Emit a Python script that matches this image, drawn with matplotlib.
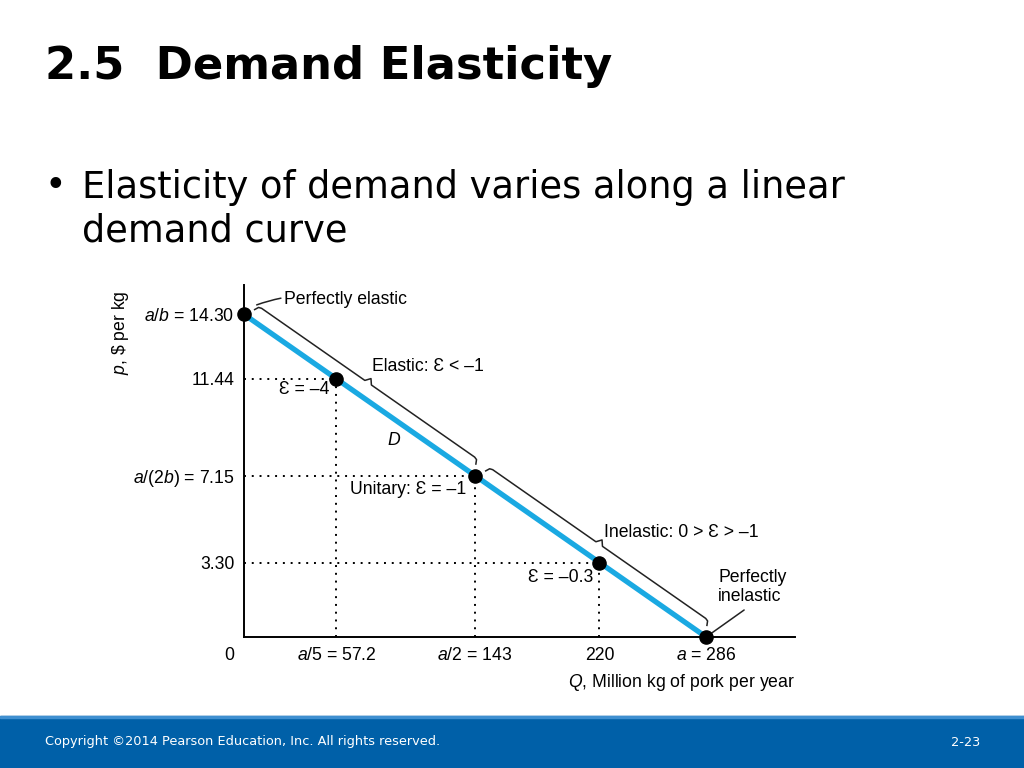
import numpy as np
import matplotlib.pyplot as plt
from matplotlib.patches import Rectangle

plt.rcParams["font.family"] = ["Liberation Sans", "DejaVu Sans"]
plt.rcParams["mathtext.fontset"] = "custom"
plt.rcParams["mathtext.rm"] = "Liberation Sans"
plt.rcParams["mathtext.it"] = "Liberation Sans:italic"

# demand curve data
a = 286.0
choke = 14.30
q_pts = [0.0, 57.2, 143.0, 220.0, 286.0]
p_pts = [14.30, 11.44, 7.15, 3.30, 0.0]
x_ticks = [57.2, 143.0, 220.0, 286.0]
x_labels = ["$a$/5 = 57.2", "$a$/2 = 143", "220", "$a$ = 286"]
y_ticks = [14.30, 11.44, 7.15, 3.30]
y_labels = ["$a$/$b$ = 14.30", "11.44", "$a$/(2$b$) = 7.15", "3.30"]
point_labels = [None, "Ɛ = –4", "Unitary: Ɛ = –1", "Ɛ = –0.3", None]

BLUE = "#1aa9e2"
FOOT = "#0060a8"
FS = 12.7

fig = plt.figure(figsize=(10.24, 7.68), dpi=100)

# slide text
fig.text(45 / 1024, 1 - 67 / 768, "2.5  Demand Elasticity", family="DejaVu Sans",
         fontsize=32.3, fontweight="bold", va="center", ha="left")
fig.text(45 / 1024, 1 - 187 / 768, "•", family="DejaVu Sans", fontsize=26.5,
         va="center", ha="left")
fig.text(82 / 1024, 1 - 187 / 768, "Elasticity of demand varies along a linear",
         family="DejaVu Sans", fontsize=26.5, va="center", ha="left")
fig.text(82 / 1024, 1 - 231 / 768, "demand curve", family="DejaVu Sans",
         fontsize=26.5, va="center", ha="left")

# footer band
fig.patches.append(Rectangle((0, 0), 1, 52 / 768, transform=fig.transFigure,
                             color=FOOT, zorder=0))
fig.patches.append(Rectangle((0, 50 / 768), 1, 2 / 768, transform=fig.transFigure,
                             color="#3f8fd0", zorder=1))
fig.text(45 / 1024, 1 - 742 / 768,
         "Copyright ©2014 Pearson Education, Inc. All rights reserved.",
         family="DejaVu Sans", fontsize=9.3, color="white", va="center")
fig.text(980 / 1024, 1 - 742 / 768, "2-23", family="DejaVu Sans", fontsize=9.3,
         color="white", va="center", ha="right")

# chart
ax = fig.add_axes([244 / 1024, 131 / 768, 551 / 1024, 352 / 768])
ax.set_xlim(0, 341)
ax.set_ylim(0, 15.6)
for s in ["top", "right"]:
    ax.spines[s].set_visible(False)
for s in ["left", "bottom"]:
    ax.spines[s].set_linewidth(1.4)
ax.set_xticks(x_ticks)
ax.set_xticklabels(x_labels, fontsize=FS)
ax.set_yticks(y_ticks)
ax.set_yticklabels(y_labels, fontsize=FS)
ax.tick_params(length=0, pad=7)
ax.text(-6, -0.45, "0", fontsize=FS, ha="right", va="top")
ax.text(1.0, -0.128, "$Q$, Million kg of pork per year", transform=ax.transAxes,
        fontsize=FS, ha="right", va="center")
ax.text(-0.225, 0.985, "$p$, \\$ per kg", transform=ax.transAxes, fontsize=FS,
        rotation=90, ha="center", va="top")

ax.plot([0, a], [choke, 0], color=BLUE, lw=3.8, solid_capstyle="butt", zorder=3)

for q, p in zip(q_pts[1:-1], p_pts[1:-1]):
    ax.plot([0, q], [p, p], color="black", ls=(0, (1, 3)), lw=1.4, zorder=2)
    ax.plot([q, q], [0, p], color="black", ls=(0, (1, 3)), lw=1.4, zorder=2)

ax.scatter(q_pts, p_pts, s=90, color="black", zorder=5, clip_on=False)

offsets = [None, (-7, -11), (-9, -14), (-6, -15), None]
for q, p, lab, off in zip(q_pts, p_pts, point_labels, offsets):
    if lab:
        ax.annotate(lab, (q, p), xytext=off, textcoords="offset pixels",
                    fontsize=FS, ha="right", va="center")

ax.text(92.9, 8.72, "$D$", fontsize=FS, ha="center", va="center")

# braces parallel to the demand curve
fig.canvas.draw()
to_px = ax.transData.transform
to_data = ax.transData.inverted().transform


def brace(p0, p1, off=15, hook=5, tip=5, inset=5):
    a0, a1 = to_px(p0), to_px(p1)
    d = (a1 - a0) / np.linalg.norm(a1 - a0)
    n = np.array([d[1], -d[0]])
    if n[1] < 0:
        n = -n
    b0 = a0 + d * inset + n * off
    b1 = a1 - d * inset + n * off
    m = (b0 + b1) / 2
    pts = [b0 - n * hook + d * 1, b0 - n * 1 + d * 3, b0 + d * 6, m - d * 4,
           m + n * tip, m + d * 4, b1 - d * 6, b1 - n * 1 - d * 3,
           b1 - n * hook - d * 1]
    xy = to_data(np.array(pts))
    ax.plot(xy[:, 0], xy[:, 1], color="#222222", lw=1.1, zorder=4, clip_on=False)
    return b0, m + n * tip, b1


s0, t0, e0 = brace((q_pts[0], p_pts[0]), (q_pts[2], p_pts[2]))
s1, t1, e1 = brace((q_pts[2], p_pts[2]), (q_pts[4], p_pts[4]))

ax.annotate("Elastic: Ɛ < –1", to_data(t0), xytext=(1, 12),
            textcoords="offset pixels", fontsize=FS, ha="left", va="center")
ax.annotate("Inelastic: 0 > Ɛ > –1", to_data(t1), xytext=(2, 7),
            textcoords="offset pixels", fontsize=FS, ha="left", va="center")

ax.annotate("Perfectly elastic", to_data(s0), xytext=(27, 5),
            textcoords="offset pixels", fontsize=FS, ha="left", va="center",
            arrowprops=dict(arrowstyle="-", color="#222222", lw=1.1,
                            shrinkA=0, shrinkB=0,
                            connectionstyle="arc3,rad=0.15"))
ax.annotate("Perfectly\ninelastic", (q_pts[4], p_pts[4]), xytext=(12, 50),
            textcoords="offset pixels", fontsize=FS, ha="left", va="center",
            linespacing=1.1)
ax.annotate("", (q_pts[4], p_pts[4]), xytext=(38, 27),
            textcoords="offset pixels",
            arrowprops=dict(arrowstyle="-", color="#222222", lw=1.1,
                            shrinkA=0, shrinkB=5))

fig.savefig("out.png", dpi=100)
